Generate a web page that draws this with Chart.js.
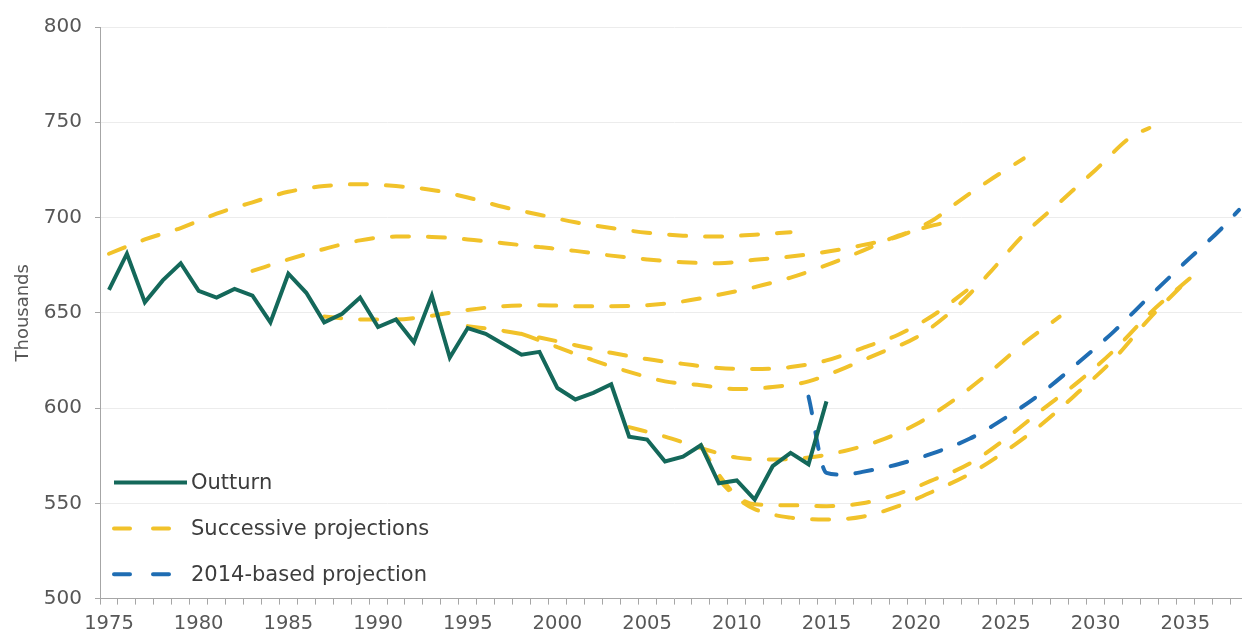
<!DOCTYPE html>
<html lang="en">
<head>
<meta charset="UTF-8">
<title>Outturn and successive projections</title>
<script src="https://cdn.jsdelivr.net/npm/chart.js"></script>
<style>
    * { margin: 0; padding: 0; box-sizing: border-box; }
    html, body { overflow: hidden; }
    body { background: #fff; font-family: 'DejaVu Sans', sans-serif; }
    /* the year axis runs a few pixels past the right edge of the frame */
    .chart-container { position: relative; width: 1248px; height: 633px; }
</style>
</head>
<body>
<div class="chart-container"><canvas id="projChart"></canvas></div>
<script>
// categories: one slot per year
const years = [];
for (let y = 1975; y <= 2038; y++) years.push(y);

const yTicks = [500, 550, 600, 650, 700, 750, 800];

// outturn, one value per year from 1975
const outturnStart = 1975;
const outturn = [662, 681, 655.5, 667, 676, 661.5, 658, 662.5, 659, 645,
    670.5, 660.5, 645, 649.5, 658, 642.5, 646.5, 634.5, 659, 626.5,
    642, 639, 633.5, 628, 629.5, 610.5, 604.5, 608, 612.5, 585,
    583.5, 572, 574.5, 580.5, 560.5, 562, 552, 569.5, 576.5, 570.5, 603.5];

// successive projections, [year, thousands]
const projA = [[1975, 681], [1977, 688.5], [1979, 694.5], [1981, 702], [1983, 708], [1985, 713.5],
    [1987, 716.5], [1989, 717.5], [1991, 716.5], [1993, 714.5], [1995, 710.5], [1997, 705.5],
    [1999, 701.5], [2001, 697.5], [2003, 694.5], [2005, 692], [2007, 690.5], [2009, 690],
    [2011, 691], [2013, 692.3]];
const projB = [[1983, 672], [1985, 678], [1987, 683.5], [1989, 688], [1991, 690], [1993, 689.8],
    [1995, 688.5], [1997, 686.5], [1999, 684.5], [2001, 682.5], [2003, 680], [2005, 678],
    [2007, 676.5], [2009, 676], [2011, 677.8], [2013, 679.5], [2015, 682], [2017, 685.5],
    [2019, 690], [2021, 699], [2022, 706], [2024, 719], [2026, 731]];
const projC = [[1987, 648], [1989, 646.5], [1991, 646.5], [1993, 648.5], [1995, 651.5], [1997, 653.5],
    [1999, 654], [2001, 653.5], [2003, 653.5], [2005, 654], [2007, 656], [2009, 659.5],
    [2011, 663.5], [2013, 668.5], [2015, 675], [2017, 682.5], [2019, 690.5], [2021, 696], [2022, 698]];
const projD = [[1995, 643], [1997, 640.5], [1999, 637], [2001, 633], [2003, 629], [2005, 625.7],
    [2007, 623.2], [2009, 621], [2011, 620.5], [2013, 621.5], [2015, 625], [2017, 631.5],
    [2019, 638.5], [2021, 649], [2023, 663]];
const projE = [[1998, 639], [2000, 632], [2002, 625], [2004, 619], [2006, 614], [2008, 612],
    [2010, 610], [2012, 611], [2014, 614], [2016, 621], [2018, 629], [2020, 637], [2022, 651],
    [2023, 660], [2024, 670], [2026, 691], [2028, 708], [2030, 725], [2032, 742.5], [2033, 747]];
const projF = [[2004, 590], [2006, 585], [2008, 579], [2010, 574], [2012, 573], [2014, 574],
    [2016, 577.5], [2018, 583], [2020, 591.5], [2022, 603.5], [2024, 618], [2026, 634], [2028, 648]];
const projG = [[2008, 580.5], [2009, 565], [2010, 554], [2011, 549.5], [2013, 549], [2015, 548.5],
    [2017, 550], [2019, 555], [2021, 562.5], [2023, 571], [2025, 584], [2027, 599], [2029, 613.5],
    [2031, 630], [2033, 649.5], [2035, 666], [2036, 674]];
const projH = [[2008, 580.5], [2009, 563], [2010, 553], [2011, 547], [2013, 542.5], [2015, 541.5],
    [2017, 543], [2019, 548.5], [2021, 556.5], [2023, 565.5], [2025, 577.5], [2027, 591.5],
    [2029, 608], [2031, 625.5], [2033, 647], [2035, 666]];

// 2014-based projection
const proj2014 = [[2014, 606], [2015, 566], [2016, 565], [2017, 566.5], [2019, 570.5], [2021, 576.5],
    [2023, 584], [2025, 595], [2027, 608], [2029, 623.5], [2031, 640], [2033, 658.5],
    [2035, 676.5], [2037, 694], [2038, 704]];

const colors = {
    outturn: '#14685a',
    successive: '#f1c22a',
    based2014: '#1f6db3',
    text: '#3d3d3d',
    ticks: '#575757',
    axis: '#a6a6a6',
    grid: '#ececec'
};

const toPoints = pairs => pairs.map(([x, y]) => ({ x, y }));

function dashedSet(label, pairs, color) {
    return {
        label,
        data: toPoints(pairs),
        borderColor: color,
        borderWidth: 4,
        borderDash: [17, 19],
        borderCapStyle: 'round',
        cubicInterpolationMode: 'monotone',
        pointRadius: 0,
        fill: false
    };
}

const successive = [projA, projB, projC, projD, projE, projF, projG, projH];

const datasets = [
    {
        label: 'Outturn',
        data: outturn.map((v, i) => ({ x: outturnStart + i, y: v })),
        borderColor: colors.outturn,
        borderWidth: 4,
        tension: 0,
        pointRadius: 0,
        fill: false
    },
    dashedSet('2014-based projection', proj2014, colors.based2014),
    ...successive.map(p => dashedSet('Successive projections', p, colors.successive))
];

// legend sits inside the plot, bottom left
const insideLegend = {
    id: 'insideLegend',
    afterDatasetsDraw(chart) {
        const { ctx, chartArea } = chart;
        const items = [
            { text: 'Outturn', color: colors.outturn, dash: [] },
            { text: 'Successive projections', color: colors.successive, dash: [16, 23] },
            { text: '2014-based projection', color: colors.based2014, dash: [16, 23] }
        ];
        ctx.save();
        ctx.font = '21px "DejaVu Sans", sans-serif';
        ctx.textBaseline = 'middle';
        items.forEach((item, i) => {
            const y = chartArea.bottom - 116 + i * 45.8;
            const x0 = chartArea.left + 14;
            ctx.beginPath();
            ctx.setLineDash(item.dash);
            ctx.lineCap = item.dash.length ? 'round' : 'butt';
            ctx.lineWidth = 4;
            ctx.strokeStyle = item.color;
            ctx.moveTo(x0, y);
            ctx.lineTo(x0 + 73, y);
            ctx.stroke();
            ctx.setLineDash([]);
            ctx.fillStyle = colors.text;
            ctx.fillText(item.text, chartArea.left + 91, y + 1);
        });
        ctx.restore();
    }
};

const ctx = document.getElementById('projChart').getContext('2d');
new Chart(ctx, {
    type: 'line',
    data: { labels: years, datasets },
    plugins: [insideLegend],
    options: {
        responsive: true,
        maintainAspectRatio: false,
        devicePixelRatio: 1,
        animation: false,
        layout: { padding: { top: 27, right: 0, bottom: -11, left: 0 } },
        plugins: {
            legend: { display: false },
            tooltip: { enabled: false }
        },
        scales: {
            x: {
                type: 'category',
                offset: true,
                border: { color: colors.axis, width: 1 },
                grid: {
                    offset: true,
                    drawOnChartArea: false,
                    tickLength: 6,
                    tickColor: colors.axis
                },
                ticks: {
                    autoSkip: false,
                    maxRotation: 0,
                    minRotation: 0,
                    padding: 8,
                    color: colors.ticks,
                    font: { family: 'DejaVu Sans', size: 19.5 },
                    callback(value) {
                        const yr = this.getLabelForValue(value);
                        return yr % 5 === 0 ? String(yr) : '';
                    }
                }
            },
            y: {
                min: yTicks[0],
                max: yTicks[yTicks.length - 1],
                afterBuildTicks(scale) {
                    scale.ticks = yTicks.map(v => ({ value: v }));
                },
                afterFit(scale) {
                    scale.width = 100;
                },
                border: { color: colors.axis, width: 1 },
                grid: {
                    color: colors.grid,
                    tickColor: colors.axis,
                    tickLength: 5
                },
                ticks: {
                    padding: 13,
                    color: colors.ticks,
                    font: { family: 'DejaVu Sans', size: 20 }
                },
                title: {
                    display: true,
                    text: 'Thousands',
                    color: colors.ticks,
                    font: { family: 'DejaVu Sans', size: 18 },
                    padding: { top: 13, bottom: 0 }
                }
            }
        }
    }
});
</script>
</body>
</html>
